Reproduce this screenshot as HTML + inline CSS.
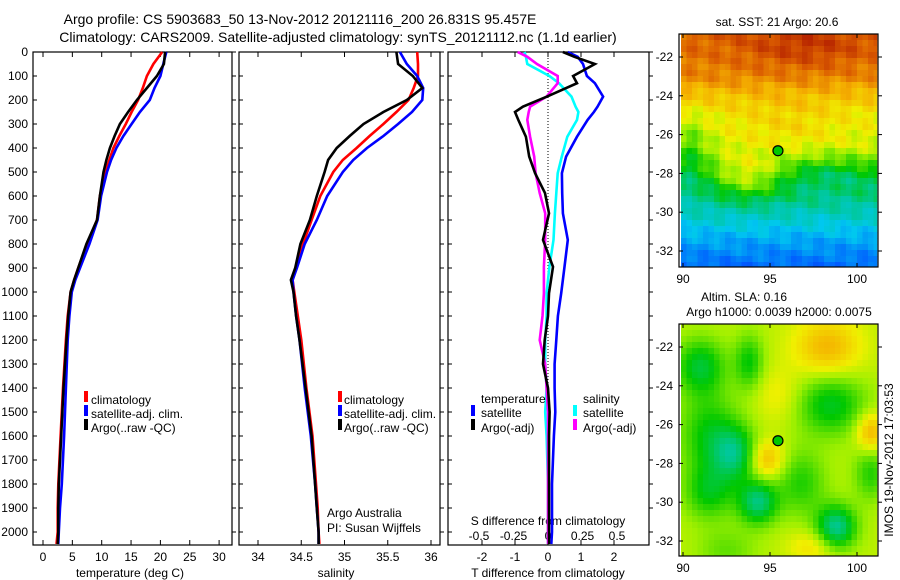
<!DOCTYPE html>
<html><head><meta charset="utf-8"><style>
html,body{margin:0;padding:0;background:#fff;width:900px;height:580px;overflow:hidden}
svg{display:block;font-family:"Liberation Sans",sans-serif;font-size:12px}
</style></head><body>
<svg id="fig" width="900" height="580" viewBox="0 0 900 580">
<text x="300" y="24" text-anchor="middle" font-size="14">Argo profile: CS 5903683_50 13-Nov-2012 20121116_200 26.831S 95.457E</text>
<text x="338" y="42" text-anchor="middle" font-size="14">Climatology: CARS2009. Satellite-adjusted climatology: synTS_20121112.nc (1.1d earlier)</text>
<g id="maps"></g>
<g id="plots"></g>
<text transform="translate(893,460) rotate(-90)" text-anchor="middle" font-size="12">IMOS 19-Nov-2012 17:03:53</text>
</svg>
<script>
// ---- profile data ----
const depths = [0,50,100,150,200,250,300,350,400,450,500,600,700,800,900,950,1000,1100,1200,1400,1600,1800,1900,2000,2050];
const tempArgo = [20.8,20.6,19.4,17.7,16,14.5,13.1,12.2,11.4,10.8,10.3,9.7,9.2,7.4,6,5.3,4.7,4.3,4.0,3.5,3.1,2.7,2.6,2.6,2.5];
const tempClim = [20.3,18.8,17.7,17,16.2,15.1,14.1,13,12,11.3,10.6,9.7,9.2,7.5,6,5.3,4.7,4.2,3.9,3.4,3.0,2.6,2.5,2.5,2.3];
const tempSat = [21,20.5,20,19,18.2,16.5,15.1,13.7,12.5,11.6,10.9,9.9,9.3,7.9,6.3,5.5,4.9,4.5,4.2,3.9,3.6,3.2,2.9,2.7,2.6];
const salArgo = [35.60,35.62,35.79,35.90,35.72,35.45,35.22,35.06,34.91,34.81,34.77,34.68,34.60,34.49,34.43,34.38,34.41,34.44,34.48,34.55,34.62,34.66,34.68,34.70,34.70];
const salClim = [35.84,35.85,35.85,35.80,35.74,35.60,35.45,35.29,35.14,34.98,34.87,34.72,34.62,34.52,34.44,34.40,34.42,34.46,34.50,34.56,34.63,34.67,34.69,34.70,34.71];
const salSat = [35.64,35.72,35.84,35.91,35.90,35.78,35.62,35.45,35.26,35.10,34.98,34.80,34.68,34.54,34.45,34.40,34.41,34.44,34.48,34.54,34.61,34.66,34.68,34.70,34.70];
const diffDepths = [0,20,50,100,130,186,228,250,283,353,436,505,588,672,783,895,1005,1100,1200,1300,1400,1500,1600,1800,2000,2050];
const dTArgo = [0.45,0.8,1.42,0.76,0.88,-0.03,-0.76,-1.0,-0.9,-0.67,-0.57,-0.39,-0.09,0.03,-0.15,0.15,0.03,0.0,-0.1,-0.15,0.0,0.05,0.03,0.03,0.03,0.03];
const dTSat = [0.6,0.9,1.06,1.18,1.42,1.67,1.5,1.39,1.2,0.88,0.55,0.42,0.43,0.45,0.6,0.5,0.4,0.3,0.25,0.2,0.2,0.22,0.18,0.12,0.12,0.1];
const dSSat = [-0.17,-0.16,-0.15,0.01,0.08,0.17,0.2,0.22,0.21,0.14,0.1,0.07,0.06,0.05,0.04,0.01,-0.01,-0.01,-0.02,-0.02,-0.01,-0.02,-0.01,0.0,0.0,0.0];
const dSArgo = [-0.22,-0.15,-0.08,0.07,0.07,-0.01,-0.13,-0.14,-0.15,-0.13,-0.1,-0.09,-0.06,-0.02,-0.02,-0.03,-0.03,-0.04,-0.06,-0.02,-0.01,0,0,0,0,0];
const depthTicks = [0,100,200,300,400,500,600,700,800,900,1000,1100,1200,1300,1400,1500,1600,1700,1800,1900,2000];
const tempTicks = [0,5,10,15,20,25,30];
const salTicks = [34,34.5,35,35.5,36];
const salTickLabels = ["34","34.5","35","35.5","36"];
const dTTicks = [-2,-1,0,1,2];
const dSTicks = [-0.5,-0.25,0,0.25,0.5];
const dSTickLabels = ["-0.5","-0.25","0","0.25","0.5"];
const lonTicks = [90,95,100];
const latTicks = [-22,-24,-26,-28,-30,-32];
const argoLon = 95.457, argoLat = -26.831;

const NS="http://www.w3.org/2000/svg";
function mk(tag, attrs, parent){const e=document.createElementNS(NS,tag);for(const k in attrs)e.setAttribute(k,attrs[k]);parent.appendChild(e);return e;}
const plots=document.getElementById('plots');
const Y0=52, Y1=545;
const yD = d => Y0 + 0.24*d;
const xT = t => 43 + 5.87*t;
const xS = s => 258 + 86.5*(s-34);
const xdT = v => 548 + 33*v;
const xdS = v => 548 + 138*v;

function frame(x0,x1,name){
  const r=mk('rect',{x:x0,y:Y0,width:x1-x0,height:Y1-Y0,fill:'none',stroke:'#000','stroke-width':1.2},plots);
  
  
  depthTicks.forEach(d=>{
    mk('line',{x1:x0,x2:x0+4,y1:yD(d),y2:yD(d),stroke:'#000'},plots);
    mk('line',{x1:x1,x2:x1+4,y1:yD(d),y2:yD(d),stroke:'#000'},plots);
  });
}
function xticks(vals,labels,fx,name,top){
  vals.forEach((v,i)=>{
    const x=fx(v);
    mk('line',{x1:x,x2:x,y1:Y1,y2:Y1-5,stroke:'#000'},plots);
    if(top) mk('line',{x1:x,x2:x,y1:Y0,y2:Y0+5,stroke:'#000'},plots);
    const t=mk('text',{x:x,y:561,'text-anchor':'middle'},plots);
    t.textContent=labels[i];
    
    
  });
}
function line(xs,ds,fx,color,name,w){
  const pts=xs.map((v,i)=>fx(v).toFixed(1)+','+yD(ds[i]).toFixed(1)).join(' ');
  const p=mk('polyline',{points:pts,fill:'none',stroke:color,'stroke-width':w||2.6,'stroke-linejoin':'miter'},plots);
  
  
}
function label(x,y,txt,name,anchor){
  const t=mk('text',{x:x,y:y,'text-anchor':anchor||'start'},plots);
  t.textContent=txt;
  
  
  return t;
}
function legendMark(x,y,color,name){
  const r=mk('rect',{x:x,y:y-9,width:4,height:11,fill:color},plots);
  
  
}

// panel 1
frame(33,232,'temperature-panel');
depthTicks.forEach(d=>{label(28,yD(d)+4,String(d),'depth-tick-label','end');});
xticks(tempTicks,tempTicks.map(String),xT,'temperature-tick-label',true);
line(tempClim,depths,xT,'#f00','temperature-climatology-line');
line(tempSat,depths,xT,'#00f','temperature-satellite-line');
line(tempArgo,depths,xT,'#000','temperature-argo-line');
label(130,577,'temperature (deg C)','temperature-axis-title','middle');
legendMark(84,400,'#f00','legend-climatology-marker');label(91,404,'climatology','legend-climatology');
legendMark(84,414,'#00f','legend-satellite-marker');label(91,418,'satellite-adj. clim.','legend-satellite');
legendMark(84,428,'#000','legend-argo-marker');label(91,432,'Argo(..raw -QC)','legend-argo');

// panel 2
frame(239,440,'salinity-panel');
xticks(salTicks,salTickLabels,xS,'salinity-tick-label',true);
line(salClim,depths,xS,'#f00','salinity-climatology-line');
line(salSat,depths,xS,'#00f','salinity-satellite-line');
line(salArgo,depths,xS,'#000','salinity-argo-line');
label(336,577,'salinity','salinity-axis-title','middle');
legendMark(338,400,'#f00','legend2-climatology-marker');label(344,404,'climatology','legend2-climatology');
legendMark(338,414,'#00f','legend2-satellite-marker');label(344,418,'satellite-adj. clim.','legend2-satellite');
legendMark(338,428,'#000','legend2-argo-marker');label(344,432,'Argo(..raw -QC)','legend2-argo');
label(327,517,'Argo Australia','argo-australia-label');
label(327,532,'PI: Susan Wijffels','pi-label');

// panel 3
frame(448,649,'difference-panel');
mk('line',{x1:548,x2:548,y1:Y0,y2:Y1,stroke:'#000','stroke-dasharray':'1,2','stroke-width':1},plots);
xticks(dTTicks,dTTicks.map(String),xdT,'t-diff-tick-label',true);
dSTicks.forEach((v,i)=>{label(xdS(v),540,dSTickLabels[i],'s-diff-tick-label','middle');});
label(548,525,'S difference from climatology','s-diff-axis-title','middle');
label(548,577,'T difference from climatology','t-diff-axis-title','middle');
line(dTSat,diffDepths,xdT,'#00f','t-diff-satellite-line');
line(dSSat,diffDepths,xdS,'#0ff','s-diff-satellite-line');
line(dSArgo,diffDepths,xdS,'#f0f','s-diff-argo-line');
line(dTArgo,diffDepths,xdT,'#000','t-diff-argo-line');
label(481,403,'temperature','legend3-temperature-header');
label(583,403,'salinity','legend3-salinity-header');
legendMark(471,414,'#00f','legend3-t-satellite-marker');label(481,417,'satellite','legend3-t-satellite');
legendMark(471,428,'#000','legend3-t-argo-marker');label(481,432,'Argo(-adj)','legend3-t-argo');
legendMark(573,414,'#0ff','legend3-s-satellite-marker');label(583,417,'satellite','legend3-s-satellite');
legendMark(573,428,'#f0f','legend3-s-argo-marker');label(583,432,'Argo(-adj)','legend3-s-argo');

// ---- maps ----
const maps=document.getElementById('maps');
const stops=[[0,[0,40,170]],[0.15,[0,90,255]],[0.3,[0,200,240]],[0.4,[0,200,150]],[0.5,[0,200,0]],[0.6,[160,240,0]],[0.66,[240,240,0]],[0.76,[245,175,0]],[0.86,[220,95,0]],[1,[160,0,0]]];
function cmap(v){v=Math.max(0,Math.min(1,v));for(let i=1;i<stops.length;i++){if(v<=stops[i][0]){const a=stops[i-1],b=stops[i];const f=(v-a[0])/(b[0]-a[0]);return 'rgb('+a[1].map((c,j)=>Math.round(c+(b[1][j]-c)*f)).join(',')+')';}}return 'rgb(160,0,0)';}
const g=(lo,la,cx,cy,sx,sy)=>Math.exp(-((lo-cx)**2/(2*sx*sx)+(la-cy)**2/(2*sy*sy)));
function sst(lo,la){
  const latP=[[-20.8,0.86],[-23,0.81],[-24,0.73],[-25,0.67],[-26.5,0.64],[-27.5,0.58],[-28.5,0.48],[-29.5,0.4],[-30.5,0.33],[-31.5,0.25],[-33,0.16]];
  let v=0.5;
  for(let i=1;i<latP.length;i++){if(la>=latP[i][0]){const a=latP[i-1],b=latP[i];v=a[1]+(b[1]-a[1])*(la-a[0])/(b[0]-a[0]);break;}}
  v+=0.12*g(lo,la,93.8,-28.3,1.3,0.8)-0.1*g(lo,la,90.3,-27,0.9,1.3)-0.08*g(lo,la,98.5,-28,2,0.6)+0.04*g(lo,la,96,-25.5,2,1)+0.07*g(lo,la,97,-21.5,2.5,0.8);
  v+=0.04*Math.sin(lo*3.1+la*2.3)*Math.cos(lo*1.7-la*2.9);
  return v;
}
function sla(lo,la){
  let v=0.62;
  const b=[[91,-23,-0.15,1.0,1.0],[93.8,-22.8,-0.12,0.6,1],[91.5,-26.5,-0.12,1.2,1.5],[93,-27.5,-0.17,0.9,1],[91.5,-29.5,-0.12,1,1],[94.3,-30,-0.2,0.8,0.8],[98.8,-31.3,-0.22,0.8,0.8],[98.5,-25,-0.14,1.4,1.1],[96.8,-29,-0.1,1,1.2],[100.8,-28.5,-0.1,0.7,1],[92.5,-32.5,-0.06,1.2,0.8],[98.3,-22,0.13,1.3,1.0],[94.8,-27.8,0.13,0.7,0.7],[100.8,-26.4,0.14,0.6,0.7],[97.5,-32.3,0.07,1,0.6],[95.5,-24.5,0.05,1,1]];
  b.forEach(q=>{v+=q[2]*g(lo,la,q[0],q[1],q[3],q[4]);});
  return v;
}
const lonX=lo=>683+17.4*(lo-90);
function drawMap(top,bottom,fn,name,titles){
  const latY=la=>top+23+19.4*(-22-la);
  const grp=mk('g',{},maps);
  
  
  const cw=5.5,ch=6;
  for(let y=top;y<bottom;y+=ch){for(let x=681;x<877;x+=cw){
    const lo=90+(x+cw/2-683)/17.4, la=-22-(y+ch/2-top-23)/19.4;
    mk('rect',{x:x,y:y,width:Math.min(cw,877-x)+0.3,height:Math.min(ch,bottom-y)+0.3,fill:cmap(fn(lo,la))},grp);
  }}
  mk('rect',{x:679,y:top,width:199,height:bottom-top,fill:'none',stroke:'#000','stroke-width':1.2},grp);
  lonTicks.forEach(lo=>{mk('line',{x1:lonX(lo),x2:lonX(lo),y1:bottom,y2:bottom-4,stroke:'#000'},grp);mk('line',{x1:lonX(lo),x2:lonX(lo),y1:top,y2:top+4,stroke:'#000'},grp);
    const t=mk('text',{x:lonX(lo),y:bottom+16,'text-anchor':'middle'},grp);t.textContent=String(lo);});
  latTicks.forEach(la=>{mk('line',{x1:679,x2:683,y1:latY(la),y2:latY(la),stroke:'#000'},grp);mk('line',{x1:878,x2:882,y1:latY(la),y2:latY(la),stroke:'#000'},grp);
    const t=mk('text',{x:673,y:latY(la)+4,'text-anchor':'end'},grp);t.textContent=String(la);});
  const c=mk('circle',{cx:lonX(argoLon),cy:latY(argoLat),r:5,fill:'#00c800',stroke:'#000','stroke-width':1.2},grp);
  
  
  titles.forEach(tt=>{const t=mk('text',{x:tt[0],y:tt[1],'text-anchor':'middle'},maps);t.textContent=tt[2];});
}
drawMap(34,267,sst,'sst-map',[[777,26,'sat. SST: 21 Argo: 20.6','sst-map-title']]);
drawMap(324,556,sla,'sla-map',[[744,301,'Altim. SLA: 0.16','sla-map-title'],[779,316,'Argo h1000: 0.0039 h2000: 0.0075','argo-height-title']]);
</script>
</body></html>
